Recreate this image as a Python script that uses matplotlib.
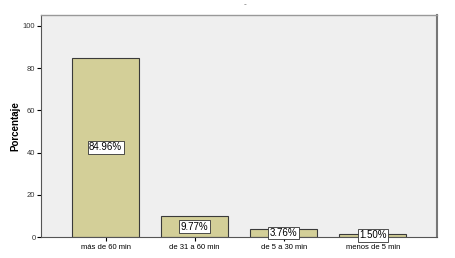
import matplotlib
matplotlib.use("Agg")
import matplotlib.pyplot as plt

categories = ["más de 60 min", "de 31 a 60 min", "de 5 a 30 min", "menos de 5 min"]
values = [84.96, 9.77, 3.76, 1.50]
labels = ["84.96%", "9.77%", "3.76%", "1.50%"]
yticks = [0, 20, 40, 60, 80, 100]

plt.rcParams['font.family'] = ['Liberation Sans', 'DejaVu Sans']
fig = plt.figure(figsize=(4.55, 2.58), dpi=100)
ax = fig.add_axes([41/455, 1 - 237/258, (437-41)/455, (237-15)/258])
ax.set_facecolor('#efefef')
x = list(range(len(categories)))
ax.bar(x, values, width=0.75, color='#d3cf98', edgecolor='#3a3a3a', linewidth=0.8, zorder=2)
for xi, v, lab in zip(x, values, labels):
    ax.text(xi, v / 2, lab, ha='center', va='center', fontsize=7,
            bbox=dict(boxstyle='square,pad=0.15', facecolor='white', edgecolor='#333333', linewidth=0.6), zorder=3)
ax.set_xlim(-0.725, 3.72)
ax.set_ylim(0, 105.2)
ax.set_yticks(yticks)
ax.set_xticks(x)
ax.set_xticklabels(categories, fontsize=5.5)
ax.tick_params(axis='y', labelsize=5.5, length=3, width=0.8, pad=1, labelcolor='#333333')
ax.tick_params(axis='x', length=3, width=0.8, pad=2)
ax.set_ylabel("Porcentaje", fontsize=7, fontweight='bold', va='center')
ax.yaxis.set_label_coords((15-41)/396, 0.5)
for s in ['left', 'bottom']:
    ax.spines[s].set_color('#555555')
    ax.spines[s].set_linewidth(0.8)
ax.spines['top'].set_color('#999999')
ax.spines['top'].set_linewidth(1.0)
ax.spines['right'].set_color('#777777')
ax.spines['right'].set_linewidth(1.5)
fig.text(245/455, 1 - 5/258, "-", ha='center', va='center', fontsize=6, color='#666666')
fig.savefig("out.png", dpi=100, facecolor='white')
